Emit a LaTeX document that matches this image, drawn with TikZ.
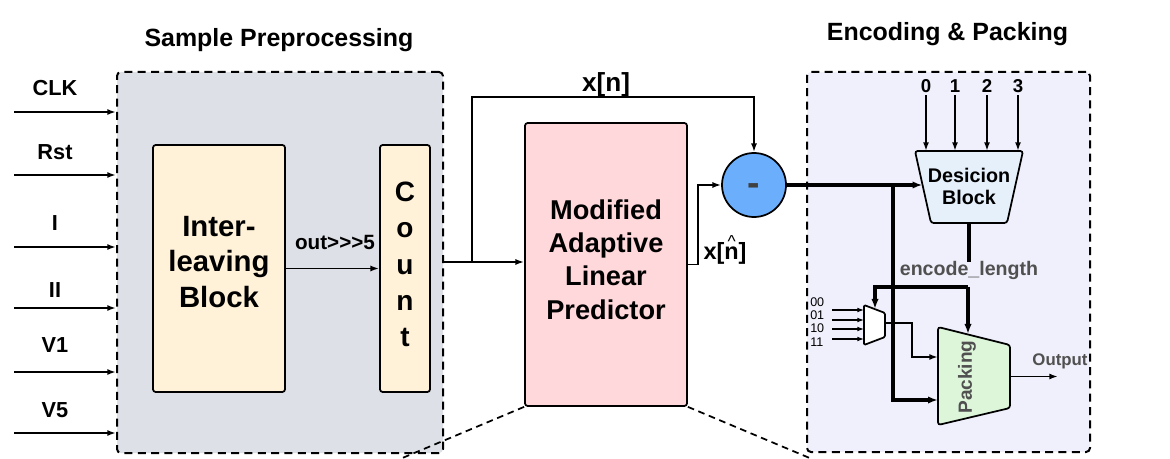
\documentclass[tikz,border=0pt]{standalone}
\usepackage{fontspec}
\setmainfont{Liberation Sans}
\usetikzlibrary{arrows.meta,calc}
\definecolor{grpgray}{HTML}{DDE0E6}
\definecolor{grplav}{HTML}{F0F0FC}
\definecolor{cream}{HTML}{FFF2D9}
\definecolor{pinkf}{HTML}{FFD8DB}
\definecolor{blobe}{HTML}{6AAEFC}
\definecolor{decf}{HTML}{E6F0FB}
\definecolor{packf}{HTML}{DDF6DA}
\definecolor{txtg}{HTML}{505050}
\newcommand\fsz[2]{\fontsize{#1}{#2}\selectfont}
\begin{document}
\begin{tikzpicture}[x=0.75pt,y=-0.75pt,
  grp/.style={draw, line width=1.5pt, dash pattern=on 6pt off 4pt, rounded corners=3pt, inner sep=0},
  blk/.style={draw, line width=1.3pt, rounded corners=2pt, inner sep=0},
  ln/.style={line width=1.3pt},
  arr/.style={ln, -{Latex[length=6.5pt,width=4.5pt]}},
  sarr/.style={line width=0.9pt, -{Latex[length=5pt,width=3.6pt]}},
  thk/.style={line width=2.5pt},
  tarr/.style={thk, -{Latex[length=7.5pt,width=5.5pt]}},
  dsh/.style={line width=1.3pt, dash pattern=on 5pt off 3.5pt},
  lbl/.style={font=\fsz{16.3}{19}\bfseries, inner sep=0},
  ttl/.style={font=\fsz{18.7}{22}\bfseries, anchor=base, inner sep=0},
  trapline/.style={draw, line width=1.3pt, rounded corners=2pt},
]
\useasboundingbox[fill=white] (0,0) rectangle (1170,459);

% groups
\node[grp, fill=grpgray, minimum width=244.5pt, minimum height=285.75pt] (gl) at (280,262.5) {};
\node[grp, fill=grplav, minimum width=212.25pt, minimum height=285pt] (gr) at (948.5,262) {};
\node[ttl] (tl) at (279,47) {Sample Preprocessing};
\node[ttl] (tr) at (947.5,41) {Encoding \& Packing};

% inputs
\foreach \t/\ly/\ay/\k in {CLK/88/112/a, Rst/152/175/b, I/223/247/c, II/290/308/d, V1/345/372/e, V5/410/433/f}{
  \node[lbl] (l\k) at (55,\ly) {\t};
  \coordinate (s\k) at (14,\ay);
  \draw[arr] (s\k) -- (s\k -| gl.west);
}

% interleaving block and count
\node[blk, fill=cream, minimum width=99pt, minimum height=185.25pt] (inter) at (219,268.5) {};
\node[font=\fsz{22}{26.6}\bfseries, align=center, inner sep=0] (intert) at (219,262) {Inter-\\leaving\\Block};
\node[blk, fill=cream, minimum width=37.5pt, minimum height=185.25pt] (count) at (405,268.5) {};
\node[font=\fsz{21}{27.2}\bfseries, align=center, inner sep=0] (countt) at (405,264.5) {C\\o\\u\\n\\t};
\draw[arr] (inter.east) -- (count.west);
\node[font=\fsz{15.5}{18}\bfseries, anchor=base, inner sep=0] (outl) at (335,250) {out\mbox{>}\mbox{>}\mbox{>}5};

% predictor
\node[blk, fill=pinkf, minimum width=121.5pt, minimum height=212.25pt] (malp) at (606,264.5) {};
\node[font=\fsz{20.4}{25}\bfseries, align=center, inner sep=0] (malpt) at (606,259.5) {Modified\\Adaptive\\Linear\\Predictor};

% subtractor
\node[circle, draw, line width=1.3pt, fill=blobe, minimum size=48pt, inner sep=0,
      font=\fsz{28}{30}\bfseries, text=black!75, text height=15.4pt, text depth=0pt] (sub) at (754,185) {-};

\coordinate (cout) at (443,262);
\coordinate (br1) at (472,262);
\coordinate (xtop) at (754,97);
\draw[arr] (cout) -- (cout -| malp.west);
\draw[arr] (br1) |- (xtop) -- (sub.north);
\node[font=\fsz{19.6}{22}\bfseries, anchor=base, inner sep=0] (xn) at (606,92) {x[n]};
\draw[arr] (malp.east) -- ++(10,0) |- (sub.west);
\node[font=\fsz{17.6}{20}\bfseries, anchor=base, inner sep=0] (xh) at (725,260)
  {x[\makebox[0pt][l]{\hspace{2.4pt}\raisebox{9.6pt}[0pt][0pt]{\normalfont\fsz{13}{13}\symbol{94}}}n]};

% decision block
\coordinate (dTL) at (915,151);
\coordinate (dTR) at (1023,151);
\coordinate (dBR) at (1007,223);
\coordinate (dBL) at (931,223);
\path[trapline, fill=decf] (dTL) -- (dTR) -- (dBR) -- (dBL) -- cycle;
\node[font=\fsz{14.8}{16.5}\bfseries, align=center, inner sep=0] (dec) at (969,186.5) {Desicion\\Block};
\coordinate (decBot) at (969,223);
\coordinate (decW) at (922.5,185);
\foreach \d/\xx in {0/926,1/955,2/987,3/1018}{
  \node[font=\fsz{14}{16}\bfseries, anchor=base, inner sep=0] (d\d) at (\xx,93) {\d};
  \draw[arr] (d\d.south) ++(0,2) -- (d\d.south |- dTL);
}
\draw[tarr] (sub.east) -- (decW);

% encode length
\node[font=\fsz{14.7}{17}\bfseries, text=txtg, anchor=base, inner sep=0] (enc) at (969,276) {encode\_length};
\draw[thk] (decBot) -- (enc.north);

% packing
\coordinate (pTL) at (938,327);
\coordinate (pTR) at (1010,345);
\coordinate (pBR) at (1010,408);
\coordinate (pBL) at (938,425);
\path[trapline, fill=packf] (pTL) -- (pTR) -- (pBR) -- (pBL) -- cycle;
\node[rotate=90, font=\fsz{14.3}{16}\bfseries, text=txtg, inner sep=0] (pack) at (967,377) {Packing};
\coordinate (packin1) at (938,357);
\coordinate (packin2) at (938,400);
\coordinate (packtop) at (968,334);
\coordinate (packR) at (1010,376.5);
\coordinate (outend) at (1058,376.5);
\draw[arr] (packR) -- (outend);
\node[font=\fsz{12.6}{14}\bfseries, text=txtg, anchor=base, inner sep=0] (outlbl) at (1060,365) {Output};

% mux
\coordinate (mTL) at (864,305);
\coordinate (mTR) at (885,313);
\coordinate (mBR) at (885,337);
\coordinate (mBL) at (864,345);
\path[trapline, fill=white, rounded corners=1pt] (mTL) -- (mTR) -- (mBR) -- (mBL) -- cycle;
\coordinate (muxout) at (885,323);
\coordinate (muxtop) at (875,309);
\foreach \yy/\k in {310/1,320/2,329/3,339/4}{
  \coordinate (mi\k) at (832,\yy);
  \draw[sarr] (mi\k) -- (mi\k -| mTL);
}
\foreach \t/\yy in {00/307,01/320,10/333,11/347}{
  \node[font=\fsz{9.4}{10}, anchor=base west, inner sep=0] (m\t) at (810,\yy) {\t};
}
\draw[arr] (muxout) -- ++(27,0) |- (packin1);

% encode_length distribution
\coordinate (jenc) at (968,287);
\coordinate (jl) at (875,287);
\draw[tarr] (jenc) -- (jl) -- (muxtop);
\draw[tarr] (jenc) -- (packtop);

% residual branch to packing
\coordinate (jb) at (893,185);
\draw[tarr] (jb) |- (packin2);

% zoom lines
\coordinate (dl) at (400,459);
\coordinate (dr) at (812,459);
\draw[dsh] (malp.south west) -- (dl);
\draw[dsh] (malp.south east) -- (dr);
\end{tikzpicture}
\end{document}
